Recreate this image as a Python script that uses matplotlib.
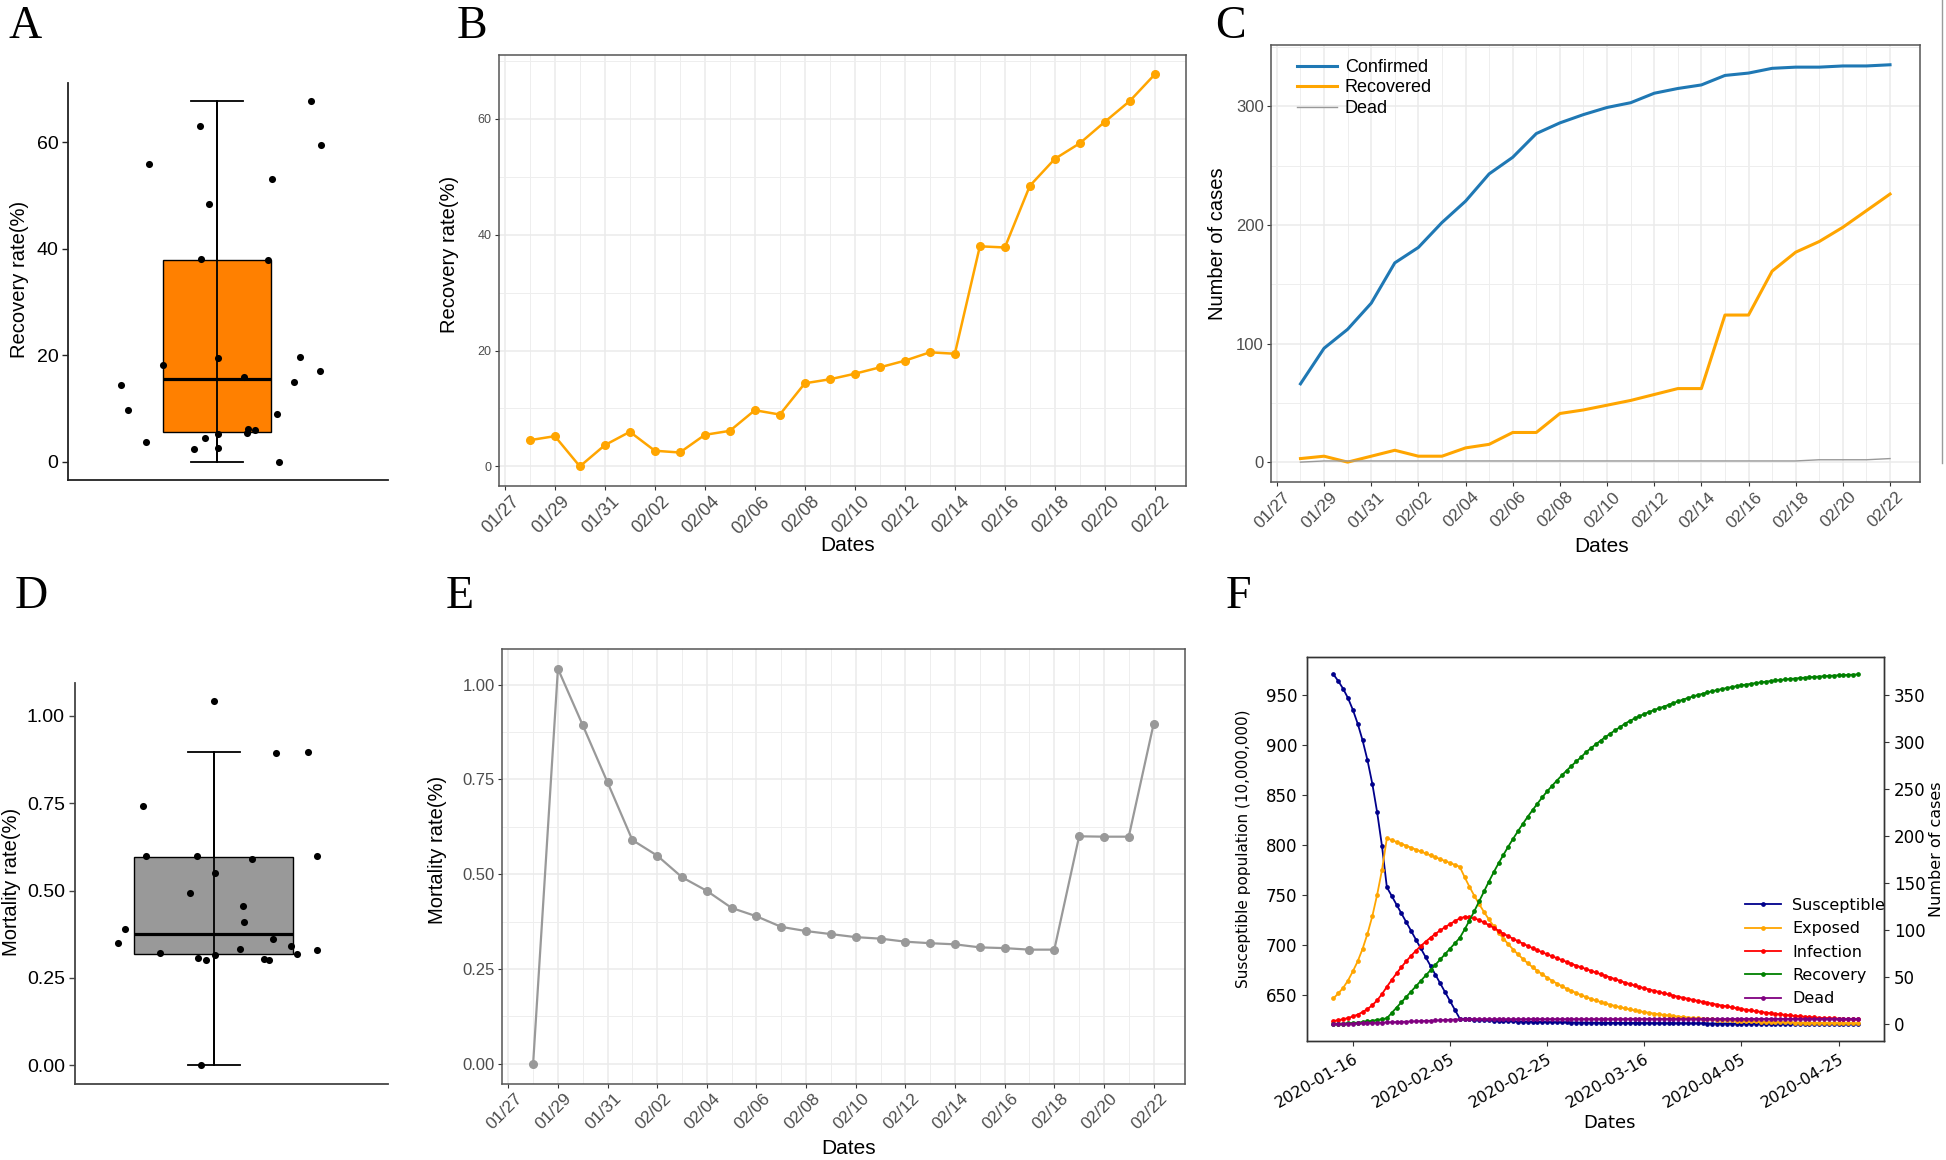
import numpy as np
import pandas as pd
import matplotlib
matplotlib.use("Agg")
import matplotlib.pyplot as plt
import matplotlib.dates as mdates
from matplotlib.ticker import MultipleLocator, FormatStrFormatter
from matplotlib.transforms import ScaledTranslation
from matplotlib.lines import Line2D

plt.rcParams['font.family'] = ['Liberation Sans', 'DejaVu Sans']

# ---------------------------------------------------------------- data
dates = pd.date_range("2020-01-28", "2020-02-22")          # 26 observation days
recovery_rate = [4.53, 5.22, 0.0, 3.67, 5.97, 2.70, 2.40, 5.45, 6.14, 9.70,
                 8.95, 14.35, 15.04, 16.00, 17.10, 18.25, 19.70, 19.45, 38.00, 37.80,
                 48.45, 53.10, 55.80, 59.50, 63.10, 67.70]
mortality_rate = [0.0, 1.042, 0.893, 0.742, 0.590, 0.549, 0.492, 0.456, 0.411, 0.389,
                  0.361, 0.350, 0.342, 0.334, 0.330, 0.322, 0.318, 0.315, 0.307, 0.305,
                  0.301, 0.301, 0.600, 0.599, 0.599, 0.896]
confirmed = [66, 96, 112, 134, 168, 181, 202, 220, 243, 257, 277, 286, 293, 299, 303,
             311, 315, 318, 326, 328, 332, 333, 333, 334, 334, 335]
recovered = [3, 5, 0, 5, 10, 5, 5, 12, 15, 25, 25, 41, 44, 48, 52, 57, 62, 62, 124, 124,
             161, 177, 186, 198, 212, 226]
dead = [0, 1, 1, 1, 1, 1, 1, 1, 1, 1, 1, 1, 1, 1, 1, 1, 1, 1, 1, 1, 1, 1, 2, 2, 2, 3]
# horizontal jitter of each day's point in the strip/box panels A and D
jitter = [-0.086, 0.005, 0.437, -0.498, 0.268, 0.009, -0.163, 0.208, 0.215, -0.622,
          0.418, -0.673, 0.540, 0.187, 0.724, -0.378, 0.580, 0.009, -0.112, 0.355,
          -0.056, 0.388, -0.477, 0.727, -0.117, 0.661]

# SEIR model output (panel F), one value per day
seir_dates = pd.date_range("2020-01-12", periods=109)
susceptible = [
    970.6, 963.9, 956.2, 946.9, 935.2, 921.3, 904.7, 885.0, 861.4, 832.8,
    798.9, 757.9, 749.2, 740.4, 731.7, 722.9, 714.2, 705.4, 696.7, 687.9,
    679.2, 670.4, 661.7, 652.9, 644.2, 635.4, 626.7, 626.3, 625.9, 625.6,
    625.3, 625.0, 624.8, 624.6, 624.4, 624.2, 624.0, 623.9, 623.7, 623.6,
    623.5, 623.4, 623.3, 623.2, 623.1, 623.0, 622.9, 622.9, 622.8, 622.7,
    622.7, 622.6, 622.6, 622.5, 622.5, 622.4, 622.4, 622.3, 622.3, 622.3,
    622.2, 622.2, 622.2, 622.1, 622.1, 622.1, 622.0, 622.0, 622.0, 621.9,
    621.9, 621.9, 621.9, 621.8, 621.8, 621.8, 621.8, 621.7, 621.7, 621.7,
    621.7, 621.7, 621.6, 621.6, 621.6, 621.6, 621.6, 621.6, 621.5, 621.5,
    621.5, 621.5, 621.5, 621.5, 621.5, 621.4, 621.4, 621.4, 621.4, 621.4,
    621.4, 621.4, 621.4, 621.3, 621.3, 621.3, 621.3, 621.3, 621.3]
exposed = [
    27.2, 32.5, 38.4, 46.2, 56.0, 66.7, 79.9, 95.8, 114.5, 137.5,
    164.0, 197.7, 195.7, 193.6, 191.6, 189.6, 187.5, 185.5, 183.5, 181.4,
    179.4, 177.4, 175.4, 173.3, 171.3, 169.3, 167.3, 156.3, 146.0, 136.4,
    127.5, 119.1, 111.3, 104.0, 97.1, 90.8, 84.8, 79.2, 74.0, 69.2,
    64.6, 60.4, 56.4, 52.7, 49.3, 46.0, 43.0, 40.2, 37.5, 35.1,
    32.8, 30.6, 28.6, 26.7, 25.0, 23.3, 21.8, 20.4, 19.0, 17.8,
    16.6, 15.5, 14.5, 13.5, 12.6, 11.8, 11.0, 10.3, 9.6, 9.0,
    8.4, 7.8, 7.3, 6.8, 6.4, 6.0, 5.6, 5.2, 4.9, 4.5,
    4.2, 3.9, 3.7, 3.4, 3.2, 3.0, 2.8, 2.6, 2.4, 2.3,
    2.1, 2.0, 1.9, 1.7, 1.6, 1.5, 1.4, 1.3, 1.2, 1.1,
    1.1, 1.0, 0.9, 0.9, 0.8, 0.7, 0.7, 0.6, 0.6]
infection = [
    3.2, 4.0, 5.0, 6.3, 7.9, 10.0, 12.6, 15.8, 19.9, 25.1,
    31.8, 39.5, 46.8, 53.8, 60.5, 66.8, 72.6, 78.0, 83.0, 87.6,
    91.9, 95.9, 99.6, 103.0, 106.3, 109.4, 112.3, 113.9, 113.6, 112.4,
    110.5, 108.0, 105.2, 102.3, 99.2, 96.0, 93.3, 90.6, 88.0, 85.5,
    83.0, 80.7, 78.4, 76.2, 74.1, 72.0, 70.0, 68.0, 66.0, 64.0,
    62.0, 60.2, 58.4, 56.6, 54.8, 53.0, 51.2, 49.4, 47.6, 45.8,
    44.0, 42.4, 40.9, 39.4, 38.0, 36.6, 35.3, 34.0, 32.7, 31.4,
    30.1, 28.9, 27.8, 26.7, 25.6, 24.5, 23.5, 22.5, 21.5, 20.5,
    19.5, 18.6, 17.7, 16.8, 15.9, 15.0, 14.3, 13.5, 12.8, 12.0,
    11.3, 10.7, 10.2, 9.6, 9.1, 8.5, 8.1, 7.7, 7.3, 6.9,
    6.5, 6.3, 6.1, 5.8, 5.6, 5.4, 5.3, 5.1, 5.0]
recovery = [
    0.0, 0.2, 0.4, 0.7, 1.0, 1.4, 2.0, 2.6, 3.4, 4.2,
    5.1, 6.0, 11.7, 17.4, 23.1, 28.8, 34.5, 40.2, 45.9, 51.6,
    57.3, 63.0, 68.7, 74.4, 80.1, 85.8, 91.5, 100.5, 110.0, 120.0,
    130.5, 141.0, 151.5, 161.5, 171.0, 180.0, 188.8, 197.2, 205.2, 213.0,
    220.5, 227.6, 234.5, 241.2, 247.6, 253.4, 259.0, 264.4, 269.6, 274.6,
    279.4, 284.0, 289.2, 293.4, 297.5, 301.5, 305.3, 309.0, 312.5, 315.8,
    319.5, 322.4, 325.1, 327.6, 329.9, 332.0, 334.0, 335.9, 337.7, 339.5,
    341.5, 343.4, 345.2, 346.9, 348.5, 350.0, 351.4, 352.8, 354.1, 355.3,
    356.4, 357.5, 358.5, 359.5, 360.4, 361.2, 362.0, 362.8, 363.5, 364.2,
    364.9, 365.5, 366.1, 366.6, 367.1, 367.6, 368.1, 368.5, 368.9, 369.3,
    369.7, 370.0, 370.4, 370.7, 371.0, 371.2, 371.5, 371.7, 372.0]
seir_dead = [
    0.0, 0.1, 0.2, 0.3, 0.4, 0.6, 0.7, 0.9, 1.0, 1.2,
    1.4, 1.6, 1.8, 2.0, 2.2, 2.4, 2.6, 2.8, 3.0, 3.2,
    3.4, 3.7, 3.9, 4.2, 4.4, 4.7, 5.0, 5.0, 5.0, 5.0,
    5.0, 5.0, 5.0, 5.0, 5.0, 5.0, 5.0, 5.0, 5.0, 5.0,
    5.0, 5.1, 5.1, 5.1, 5.1, 5.1, 5.1, 5.1, 5.1, 5.1,
    5.1, 5.1, 5.1, 5.1, 5.1, 5.1, 5.1, 5.1, 5.1, 5.1,
    5.1, 5.2, 5.2, 5.2, 5.2, 5.2, 5.2, 5.2, 5.2, 5.2,
    5.2, 5.2, 5.2, 5.2, 5.2, 5.2, 5.2, 5.2, 5.2, 5.2,
    5.2, 5.3, 5.3, 5.3, 5.3, 5.3, 5.3, 5.3, 5.3, 5.3,
    5.3, 5.3, 5.3, 5.3, 5.3, 5.3, 5.3, 5.3, 5.3, 5.3,
    5.3, 5.4, 5.4, 5.4, 5.4, 5.4, 5.4, 5.4, 5.4]
seir_labels = ["Susceptible", "Exposed", "Infection", "Recovery", "Dead"]
seir_colors = ["darkblue", "orange", "red", "green", "purple"]

# ---------------------------------------------------------------- figure
W, H = 1946, 1160
fig = plt.figure(figsize=(W / 100, H / 100), dpi=100)
fig.patch.set_facecolor("white")


def rect(l, t, r, b):
    return [l / W, 1 - b / H, (r - l) / W, (b - t) / H]


def panel_letter(x, y, s):
    fig.text(x / W, 1 - y / H, s, fontsize=33, family="Liberation Serif",
             ha="center", va="baseline")


# ----------------------------------------------------------- box panels
def box_panel(ax, values, face, width, capw, xlim, ylim, yticks, fmt,
              ylabel, ylab_xy, spine_color):
    bp = ax.boxplot([values], positions=[0], widths=width, whis=1.5,
                    showfliers=False, patch_artist=True, capwidths=[capw],
                    boxprops=dict(facecolor=face, edgecolor="black", linewidth=1.0),
                    medianprops=dict(color="black", linewidth=2.3),
                    whiskerprops=dict(color="black", linewidth=1.3),
                    capprops=dict(color="black", linewidth=1.3))
    lo = bp["caps"][0].get_ydata()[0]
    hi = bp["caps"][1].get_ydata()[0]
    ax.vlines(0, lo, hi, color="black", lw=1.3, zorder=3)
    ax.scatter(np.array(jitter), values, s=26, color="black", zorder=4, linewidths=0)
    ax.set_xlim(*xlim)
    ax.set_ylim(*ylim)
    ax.set_xticks([])
    ax.set_yticks(yticks)
    ax.yaxis.set_major_formatter(FormatStrFormatter(fmt))
    for s in ["top", "right"]:
        ax.spines[s].set_visible(False)
    for s in ["left", "bottom"]:
        ax.spines[s].set_color(spine_color)
        ax.spines[s].set_linewidth(1.3)
    ax.tick_params(axis="y", length=4, width=1.0, color=spine_color,
                   labelsize=14, labelcolor="black", pad=3)
    ax.set_ylabel(ylabel, fontsize=14.5)
    ax.yaxis.set_label_coords(*ylab_xy)
    ax.yaxis.label.set_va("center")


axA = fig.add_axes(rect(68, 83, 388, 480))
box_panel(axA, recovery_rate, "#FF8000", 0.75, 0.371, (-1.044, 1.198),
          (-3.385, 71.085), [0, 20, 40, 60], "%d", "Recovery rate(%)",
          (-0.153, 0.506), "#222222")

axD = fig.add_axes(rect(74.7, 682.9, 388, 1083.5))
box_panel(axD, mortality_rate, "#999999", 1.112, 0.367, (-0.974, 1.221),
          (-0.0521, 1.0941), [0, 0.25, 0.5, 0.75, 1.0], "%.2f", "Mortality rate(%)",
          (-0.201, 0.503), "#444444")

# --------------------------------------------------------- ggplot panels
xnum = mdates.date2num(dates.to_pydatetime())
major_x = mdates.date2num(pd.date_range("2020-01-27", "2020-02-22", freq="2D").to_pydatetime())
minor_x = mdates.date2num(pd.date_range("2020-01-28", "2020-02-22", freq="2D").to_pydatetime())


def gg_panel(ax, ylim, ymajor, yminor, yfmt, ytick_fs, xtick_fs, ylabel,
             ylab_xy, xlab_xy):
    ax.set_facecolor("white")
    for s in ax.spines.values():
        s.set_color("#555555")
        s.set_linewidth(1.1)
    ax.set_xlim(xnum[0] - 1.25, xnum[-1] + 1.25)
    ax.set_ylim(*ylim)
    ax.set_xticks(major_x)
    ax.set_xticks(minor_x, minor=True)
    ax.xaxis.set_major_formatter(mdates.DateFormatter("%m/%d"))
    ax.yaxis.set_major_locator(MultipleLocator(ymajor))
    ax.yaxis.set_minor_locator(MultipleLocator(yminor))
    ax.yaxis.set_major_formatter(FormatStrFormatter(yfmt))
    ax.grid(which="major", color="#EBEBEB", lw=1.1)
    ax.grid(which="minor", color="#EEEEEE", lw=0.7)
    ax.set_axisbelow(True)
    ax.tick_params(which="major", length=2.75, width=0.8, color="#333333",
                   labelcolor="#4D4D4D", pad=2.5)
    ax.tick_params(which="minor", length=0)
    ax.tick_params(axis="y", labelsize=ytick_fs)
    ax.tick_params(axis="x", labelsize=xtick_fs)
    off = ScaledTranslation(6 / 100, 0, fig.dpi_scale_trans)
    for lbl in ax.get_xticklabels():
        lbl.set_fontsize(xtick_fs)
        lbl.set_rotation(45)
        lbl.set_ha("right")
        lbl.set_va("top")
        lbl.set_rotation_mode("anchor")
        lbl.set_transform(lbl.get_transform() + off)
    ax.set_ylabel(ylabel, fontsize=14.5)
    ax.yaxis.set_label_coords(*ylab_xy)
    ax.yaxis.label.set_va("center")
    ax.set_xlabel("Dates", fontsize=15)
    ax.xaxis.set_label_coords(*xlab_xy)
    ax.xaxis.label.set_va("center")


# B
axB = fig.add_axes(rect(498.6, 54.7, 1186.1, 486))
axB.plot(xnum, recovery_rate, color="#FFA500", lw=1.8, marker="o", ms=5.5)
gg_panel(axB, (-3.385, 71.085), 20, 10, "%d", 9, 13, "Recovery rate(%)",
         (-0.0716, 0.538), (0.508, -0.1368))

# C
axC = fig.add_axes(rect(1271, 44.9, 1919.5, 482))
axC.plot(xnum, confirmed, color="#1F78B4", lw=2.2, label="Confirmed")
axC.plot(xnum, recovered, color="#FFA500", lw=2.2, label="Recovered")
axC.plot(xnum, dead, color="#999999", lw=1.0, label="Dead")
gg_panel(axC, (-16.75, 351.75), 100, 50, "%d", 12, 12.5, "Number of cases",
         (-0.0825, 0.5445), (0.5104, -0.1487))
axC.legend(loc="upper left", bbox_to_anchor=(0.040, 0.968), frameon=False,
           fontsize=13, borderpad=0, borderaxespad=0, labelspacing=0.2,
           handlelength=2.2, handletextpad=0.45)

# E
axE = fig.add_axes(rect(502.1, 649, 1184.6, 1083.5))
axE.plot(xnum, mortality_rate, color="#999999", lw=1.6, marker="o", ms=5.5)
gg_panel(axE, (-0.0521, 1.0941), 0.25, 0.125, "%.2f", 12, 12.5, "Mortality rate(%)",
         (-0.0948, 0.5374), (0.5083, -0.1507))

# ------------------------------------------------------------- panel F
axF = fig.add_axes(rect(1307.2, 656.9, 1884.3, 1041.4))
ax2 = axF.twinx()
fx = seir_dates.values
hS, = axF.plot(fx, susceptible, color=seir_colors[0], lw=1.3, marker="o", ms=2.4,
               label=seir_labels[0])
handles = [hS]
for vals, col, lab in zip([exposed, infection, recovery, seir_dead],
                          seir_colors[1:], seir_labels[1:]):
    h, = ax2.plot(fx, vals, color=col, lw=1.3, marker="o", ms=2.4, label=lab)
    handles.append(h)

f_ticks = pd.date_range("2020-01-16", periods=6, freq="20D").to_pydatetime()
axF.set_xticks(mdates.date2num(f_ticks))
axF.xaxis.set_major_formatter(mdates.DateFormatter("%Y-%m-%d"))
axF.set_yticks([650, 700, 750, 800, 850, 900, 950])
ax2.set_yticks([0, 50, 100, 150, 200, 250, 300, 350])
for a in (axF, ax2):
    for s in a.spines.values():
        s.set_color("#333333")
        s.set_linewidth(1.0)
    a.tick_params(labelsize=12, length=3.5, width=0.8, color="#333333")
    for lbl in a.get_yticklabels():
        lbl.set_fontfamily("DejaVu Sans")
        lbl.set_fontsize(12)
for lbl in axF.get_xticklabels():
    lbl.set_fontfamily("DejaVu Sans")
    lbl.set_fontsize(11.5)
    lbl.set_rotation(30)
    lbl.set_ha("right")
    lbl.set_va("top")
    lbl.set_rotation_mode("anchor")

axF.set_ylabel("Susceptible population (10,000,000)", fontsize=11, family="DejaVu Sans")
axF.yaxis.set_label_coords(-0.1112, 0.5)
axF.yaxis.label.set_va("center")
ax2.set_ylabel("Number of cases", fontsize=11.5, family="DejaVu Sans")
ax2.yaxis.set_label_coords(1.0913, 0.5)
ax2.yaxis.label.set_va("center")
axF.set_xlabel("Dates", fontsize=13, family="DejaVu Sans")
axF.xaxis.set_label_coords(0.5238, -0.2122)
axF.xaxis.label.set_va("center")

ax2.legend(handles=handles, loc="lower left", bbox_to_anchor=(0.7593, 0.0913),
           frameon=False, borderpad=0, borderaxespad=0, labelspacing=0.52,
           handlelength=2.2, handletextpad=0.72,
           prop={"family": "DejaVu Sans", "size": 11.5})

# ------------------------------------------------------------- letters
panel_letter(25, 38.3, "A")
panel_letter(471.6, 38.3, "B")
panel_letter(1230, 38.3, "C")
panel_letter(31.5, 607.6, "D")
panel_letter(460, 607.6, "E")
panel_letter(1238, 607.6, "F")

# thin crop border visible at the right edge of the original image
fig.add_artist(Line2D([1942 / W, 1942 / W], [1.0, 1 - 463 / H],
                      transform=fig.transFigure, color="#9a9a9a", lw=1.0))

fig.savefig("out.png", dpi=100, facecolor="white")
